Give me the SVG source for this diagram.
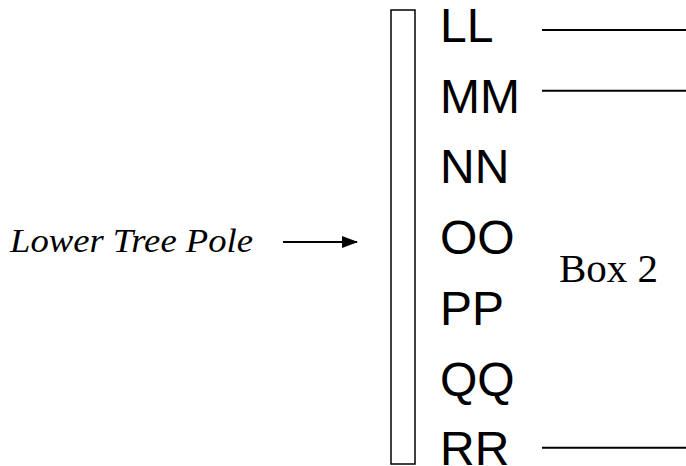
<svg xmlns="http://www.w3.org/2000/svg" width="686" height="466" viewBox="0 0 686 466">
<style>
.lbl{font-family:"Liberation Sans",Arial,sans-serif;font-size:48px;fill:#000}
.box{font-family:"Liberation Serif","Times New Roman",serif;font-size:41px;fill:#000}
.ital{font-family:"Liberation Serif","Times New Roman",serif;font-style:italic;font-size:34px;fill:#000}
.ln{stroke:#000;stroke-width:2;fill:none}
</style>
<defs>
<marker id="ah" markerWidth="16" markerHeight="12" refX="15" refY="6" orient="auto" markerUnits="userSpaceOnUse">
<path d="M0,0 L16,6 L0,12 Z" fill="#000"/>
</marker>
</defs>
<rect width="686" height="466" fill="#fff"/>
<g id="pole-label">
<text class="ital" x="10" y="252" textLength="243" lengthAdjust="spacingAndGlyphs">Lower Tree Pole</text>
</g>
<g id="pole">
<rect x="391" y="10" width="24" height="454" fill="#fff" stroke="#000" stroke-width="1.5"/>
</g>
<g id="labels">
<text class="lbl" x="440" y="42">LL</text>
<text class="lbl" x="440" y="113">MM</text>
<text class="lbl" x="440" y="183">NN</text>
<text class="lbl" x="440" y="254">OO</text>
<text class="lbl" x="440" y="325">PP</text>
<text class="lbl" x="440" y="396">QQ</text>
<text class="lbl" x="440" y="465">RR</text>
</g>
<g id="box2">
<text class="box" x="559" y="282">Box 2</text>
</g>
<g id="connectors">
<line class="ln" x1="283" y1="242" x2="357" y2="242" marker-end="url(#ah)"/>
<line class="ln" x1="542" y1="30" x2="686" y2="30"/>
<line class="ln" x1="542" y1="90.7" x2="686" y2="90.7"/>
<line class="ln" x1="542" y1="447.7" x2="686" y2="447.7"/>
</g>
</svg>
